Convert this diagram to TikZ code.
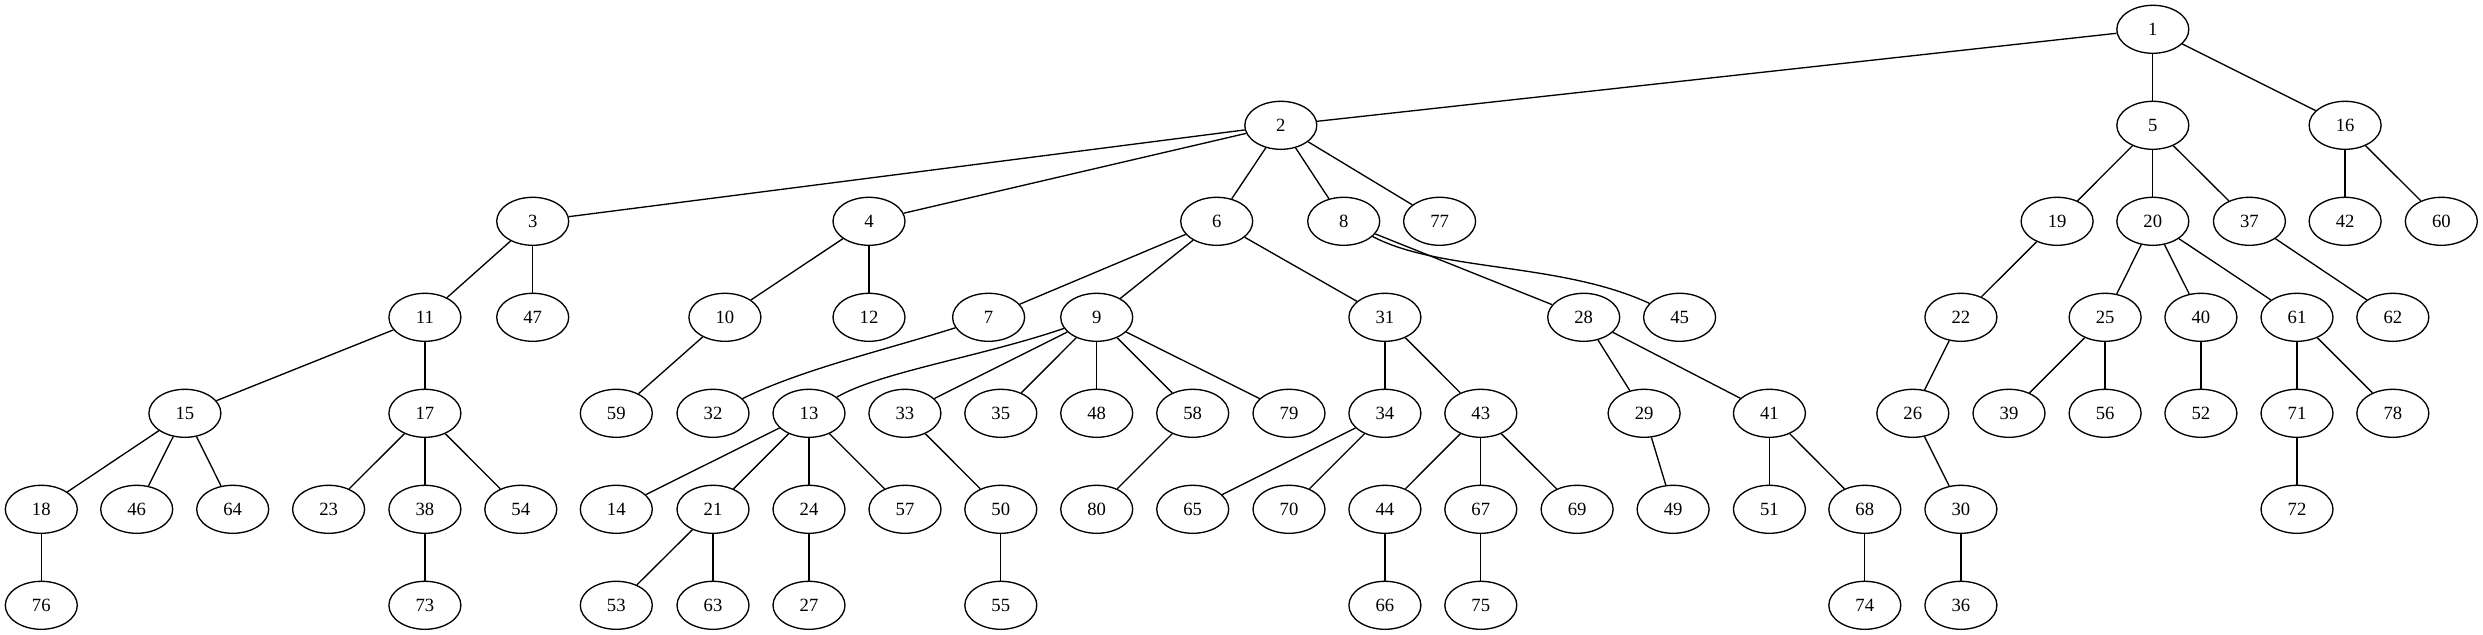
\documentclass[tikz,border=0pt]{standalone}
\usepackage{fontspec}
\setmainfont{Liberation Serif}
\usetikzlibrary{shapes.geometric}
\begin{document}
\begin{tikzpicture}[x=0.75pt,y=-0.75pt,
  gnode/.style={ellipse,draw,line width=1pt,minimum width=54pt,minimum height=36pt,inner sep=0pt,font=\fontsize{14}{16}\selectfont},
  gedge/.style={line width=1pt}]
\useasboundingbox (0,0) rectangle (2483,635);
% row 0
\node[gnode] (n1) at (2152.8,29.3) {1};
% row 1
\foreach \n/\x in {2/1280.8,5/2152.8,16/2345.1}
  \node[gnode] (n\n) at (\x,125.3) {\n};
% row 2
\foreach \n/\x in {3/532.7,4/869,6/1216.7,8/1343.7,77/1439.6,19/2057.1,20/2152.8,37/2249.4,42/2345.1,60/2441.3}
  \node[gnode] (n\n) at (\x,221.3) {\n};
% row 3
\foreach \n/\x in {11/424.9,47/532.7,10/724.9,12/869,7/988.6,9/1096.7,31/1384.9,28/1583.7,45/1679.6,22/1960.9,25/2105.1,40/2200.9,61/2297,62/2392.8}
  \node[gnode] (n\n) at (\x,317.3) {\n};
% row 4
\foreach \n/\x in {15/184.9,17/424.9,59/616.3,32/713,13/809,33/904.9,35/1000.8,48/1096.7,58/1192.7,79/1289,34/1384.9,43/1480.8,29/1644.1,41/1769.4,26/1912.8,39/2009,56/2105.1,52/2200.9,71/2297,78/2392.8}
  \node[gnode] (n\n) at (\x,413.3) {\n};
% row 5
\foreach \n/\x in {18/41.3,46/136.7,64/232.7,23/328.6,38/424.9,54/520.8,14/616.3,21/713,24/809,57/905,50/1000.8,80/1096.7,65/1192.7,70/1289,44/1384.9,67/1480.8,69/1577.1,49/1673.1,51/1769.4,68/1864.8,30/1960.9,72/2297}
  \node[gnode] (n\n) at (\x,509.3) {\n};
% row 6
\foreach \n/\x in {76/41.3,73/424.9,53/616.3,63/713,27/809,55/1000.8,66/1384.9,75/1480.8,74/1864.8,36/1960.9}
  \node[gnode] (n\n) at (\x,605.3) {\n};
% straight edges
\foreach \a/\b in {1/2,1/5,1/16,2/3,2/4,2/6,2/8,2/77,5/19,5/20,5/37,16/42,16/60,
  3/11,3/47,4/10,4/12,6/7,6/9,6/31,8/28,19/22,20/25,20/40,20/61,37/62,
  11/15,11/17,10/59,9/33,9/35,9/48,9/58,9/79,31/34,31/43,28/29,28/41,22/26,
  25/39,25/56,40/52,61/71,61/78,15/18,15/46,15/64,17/23,17/38,17/54,
  13/14,13/21,13/24,13/57,33/50,58/80,34/65,34/70,43/44,43/67,43/69,29/49,
  41/51,41/68,26/30,71/72,18/76,38/73,21/53,21/63,24/27,50/55,44/66,67/75,68/74,30/36}
  \draw[gedge] (n\a) -- (n\b);
% curved edges
\draw[gedge] (n9) .. controls (980,357) and (880,372) .. (n13);
\draw[gedge] (n7) .. controls (885,350) and (800,370) .. (n32);
\draw[gedge] (n8) .. controls (1440,272) and (1560,262) .. (n45);
\end{tikzpicture}
\end{document}
